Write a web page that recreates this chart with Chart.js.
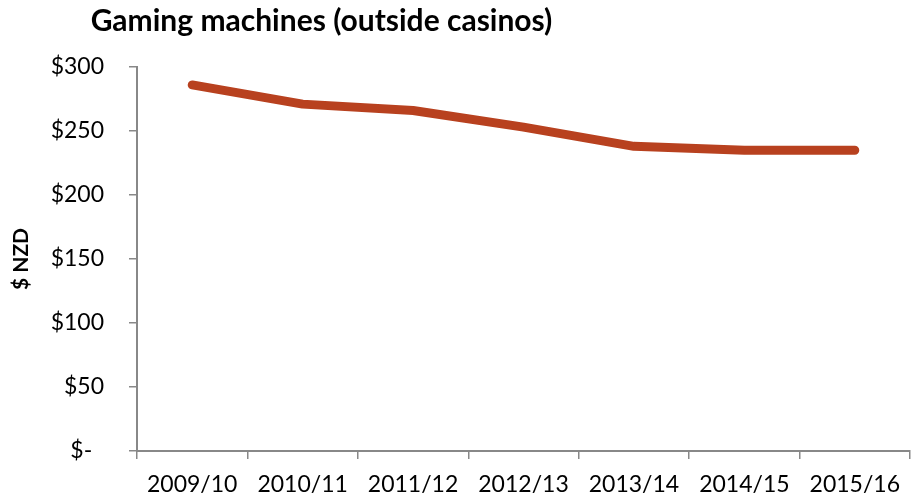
<!DOCTYPE html>
<html>
<head>
<meta charset="utf-8">
<script src="https://cdn.jsdelivr.net/npm/chart.js@4.4.1/dist/chart.umd.min.js"></script>
<style>
    html, body { margin: 0; padding: 0; background: #fff; }
    #wrap { position: relative; width: 912px; height: 500px; }
    #chart-title {
        position: absolute; left: 0; top: 2px; width: 643px;
        text-align: center; font: bold 30px Lato, sans-serif; line-height: 34px; color: #000;
    }
</style>
</head>
<body>
<div id="wrap">
    <canvas id="gamingChart" width="912" height="500"></canvas>
    <div id="chart-title">Gaming machines (outside casinos)</div>
</div>
<script>
// 数据
const years = ['2009/10', '2010/11', '2011/12', '2012/13', '2013/14', '2014/15', '2015/16'];
const spendPerAdult = [286, 271, 266, 253, 238, 235, 235];
const yTicks = [0, 50, 100, 150, 200, 250, 300];

const AXIS_GREY = '#888888';
const LABEL_FONT = { family: 'Lato', size: 23 };

new Chart(document.getElementById('gamingChart').getContext('2d'), {
    type: 'line',
    data: {
        labels: years,
        datasets: [{
            label: 'Gaming machines',
            data: spendPerAdult,
            borderColor: '#B8411F',
            borderWidth: 9,
            borderCapStyle: 'round',
            borderJoinStyle: 'round',
            pointRadius: 0,
            tension: 0,
            fill: false
        }]
    },
    options: {
        responsive: false,
        animation: false,
        layout: { padding: { top: 67, right: 0, bottom: 0, left: 0 } },
        plugins: { legend: { display: false }, tooltip: { enabled: false } },
        scales: {
            x: {
                offset: true,
                afterFit: s => { s.height = 49; },
                grid: { offset: true, drawOnChartArea: false, drawTicks: true, tickLength: 8, color: AXIS_GREY, lineWidth: 1.5 },
                border: { color: AXIS_GREY, width: 2 },
                ticks: { color: '#000', font: LABEL_FONT, padding: 12, maxRotation: 0, autoSkip: false }
            },
            y: {
                min: yTicks[0],
                max: yTicks[yTicks.length - 1],
                afterFit: s => { s.width = 137; },
                afterBuildTicks: s => { s.ticks = yTicks.map(v => ({ value: v })); },
                grid: { drawOnChartArea: false, drawTicks: true, tickLength: 8, color: AXIS_GREY, lineWidth: 1.5 },
                border: { color: AXIS_GREY, width: 2 },
                ticks: {
                    color: '#000', font: LABEL_FONT, padding: 25,
                    callback: v => v === 0 ? '$-  ' : '$' + v
                },
                title: {
                    display: true, text: '$ NZD', color: '#000',
                    font: { family: 'Lato', size: 21, weight: 'bold' },
                    padding: { top: 9, bottom: 0 }
                }
            }
        }
    }
});
</script>
</body>
</html>
